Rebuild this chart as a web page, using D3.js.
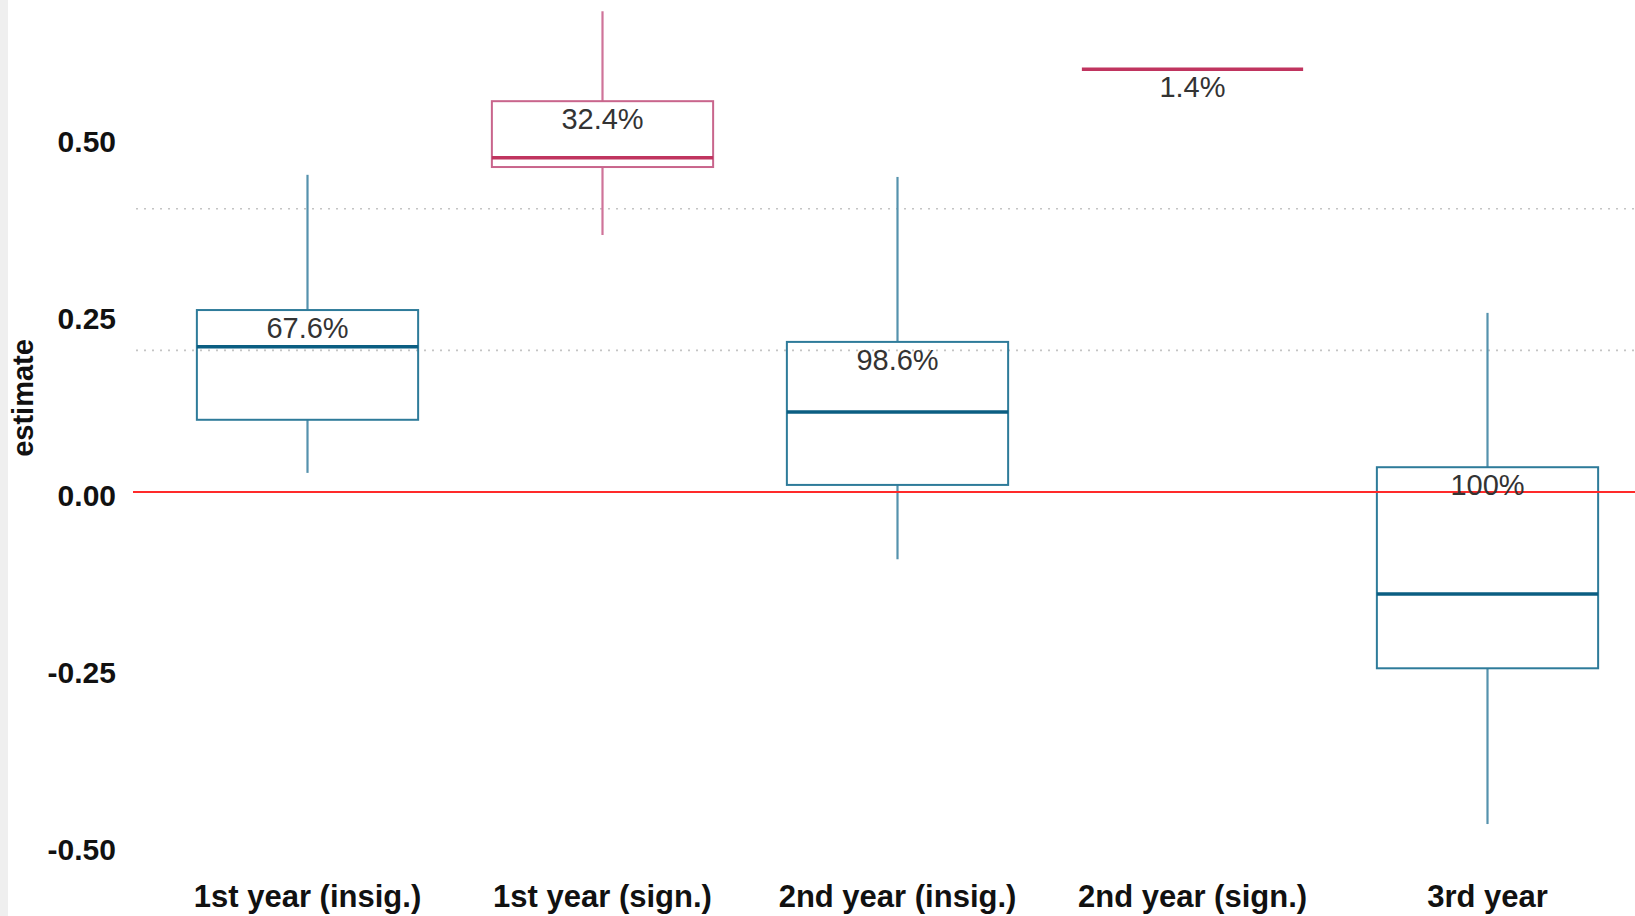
<!DOCTYPE html>
<html>
<head>
<meta charset="utf-8">
<script src="https://cdn.jsdelivr.net/npm/d3@7"></script>
<style>
  html, body { margin: 0; padding: 0; background: #ffffff; }
  svg { display: block; }
</style>
</head>
<body>
<svg id="chart" width="1635" height="916"></svg>
<script>
// Groups along the x axis
const categories = ["1st year (insig.)", "1st year (sign.)", "2nd year (insig.)", "2nd year (sign.)", "3rd year"];
// Box summary per group
const whiskerLow  = [0.027, 0.363, -0.095, 0.597, -0.469];
const quartile1   = [0.102, 0.459,  0.010, 0.597, -0.249];
const medians     = [0.205, 0.472,  0.113, 0.597, -0.144];
const quartile3   = [0.257, 0.552,  0.212, 0.597,  0.035];
const whiskerHigh = [0.448, 0.679,  0.445, 0.597,  0.253];
// Share of estimates in each group
const shareLabels = ["67.6%", "32.4%", "98.6%", "1.4%", "100%"];
// Significant groups get the pink palette
const significant = [false, true, false, true, false];
// Axis ticks and reference lines
const yTicks = [-0.50, -0.25, 0.00, 0.25, 0.50];
const yTickLabels = ["-0.50", "-0.25", "0.00", "0.25", "0.50"];
const gridValues = [0.2, 0.4];
const zeroValue = 0;

const W = 1635, H = 916;
const svg = d3.select("#chart");

const palette = {
  teal: { box: "#2e7b9a", median: "#0b5e82", whisker: "#5592ad" },
  pink: { box: "#c9658c", median: "#c0345f", whisker: "#cf7399" }
};

const x = d3.scaleBand().domain(categories).range([160, 1635]).padding(0);
const y = d3.scaleLinear().domain([-0.5, 0.5]).range([846, 138]);
const boxW = x.bandwidth() * 0.75;

// grey strip down the left edge
svg.append("rect").attr("x", 0).attr("y", 0).attr("width", 8).attr("height", H).attr("fill", "#efefef");

// dotted grid lines
svg.append("g").selectAll("line").data(gridValues).join("line")
  .attr("x1", 136).attr("x2", W)
  .attr("y1", d => y(d)).attr("y2", d => y(d))
  .attr("stroke", "#c4c4c4").attr("stroke-width", 1.6)
  .attr("stroke-dasharray", "2,6");

// y axis labels
const yAxis = svg.append("g")
  .attr("transform", "translate(116,4)")
  .call(d3.axisLeft(y).tickValues(yTicks)
    .tickFormat((d, i) => yTickLabels[i]).tickSize(0).tickPadding(0));
yAxis.select(".domain").remove();
yAxis.selectAll("text")
  .attr("font-family", "'Liberation Sans', Arial, sans-serif")
  .attr("font-weight", "bold").attr("font-size", 30).attr("fill", "#111");

// x axis labels
const xAxis = svg.append("g")
  .attr("transform", "translate(0,885)")
  .call(d3.axisBottom(x).tickSize(0).tickPadding(0));
xAxis.select(".domain").remove();
xAxis.selectAll("text")
  .attr("font-family", "'Liberation Sans', Arial, sans-serif")
  .attr("font-weight", "bold").attr("font-size", 31).attr("fill", "#111");

// y axis title
svg.append("text")
  .attr("transform", "translate(33,398) rotate(-90)")
  .attr("text-anchor", "middle")
  .attr("font-family", "'Liberation Sans', Arial, sans-serif")
  .attr("font-weight", "bold").attr("font-size", 29).attr("fill", "#111")
  .text("estimate");

// boxes
const data = categories.map((c, i) => ({
  cat: c, lo: whiskerLow[i], q1: quartile1[i], med: medians[i], q3: quartile3[i], hi: whiskerHigh[i],
  label: shareLabels[i], col: significant[i] ? palette.pink : palette.teal
}));

const g = svg.append("g");
data.forEach(d => {
  const cx = x(d.cat) + x.bandwidth() / 2;
  const flat = d.lo === d.hi;
  if (!flat) {
    g.append("line").attr("x1", cx).attr("x2", cx).attr("y1", y(d.hi)).attr("y2", y(d.q3))
      .attr("stroke", d.col.whisker).attr("stroke-width", 2.2);
    g.append("line").attr("x1", cx).attr("x2", cx).attr("y1", y(d.q1)).attr("y2", y(d.lo))
      .attr("stroke", d.col.whisker).attr("stroke-width", 2.2);
    g.append("rect")
      .attr("x", cx - boxW / 2).attr("y", y(d.q3))
      .attr("width", boxW).attr("height", y(d.q1) - y(d.q3))
      .attr("fill", "none").attr("stroke", d.col.box).attr("stroke-width", 2);
  }
  g.append("line")
    .attr("x1", cx - boxW / 2).attr("x2", cx + boxW / 2)
    .attr("y1", y(d.med)).attr("y2", y(d.med))
    .attr("stroke", d.col.median).attr("stroke-width", 3.5);
});

// zero reference line
svg.append("line")
  .attr("x1", 133).attr("x2", W)
  .attr("y1", y(zeroValue)).attr("y2", y(zeroValue))
  .attr("stroke", "#ff2a2a").attr("stroke-width", 2);

// share labels just under each box top
svg.append("g").selectAll("text").data(data).join("text")
  .attr("x", d => x(d.cat) + x.bandwidth() / 2)
  .attr("y", d => y(d.q3) + 28)
  .attr("text-anchor", "middle")
  .attr("font-family", "'Liberation Sans Narrow', 'Liberation Sans', Arial, sans-serif")
  .attr("font-size", 29).attr("fill", "#333")
  .text(d => d.label);
</script>
</body>
</html>
